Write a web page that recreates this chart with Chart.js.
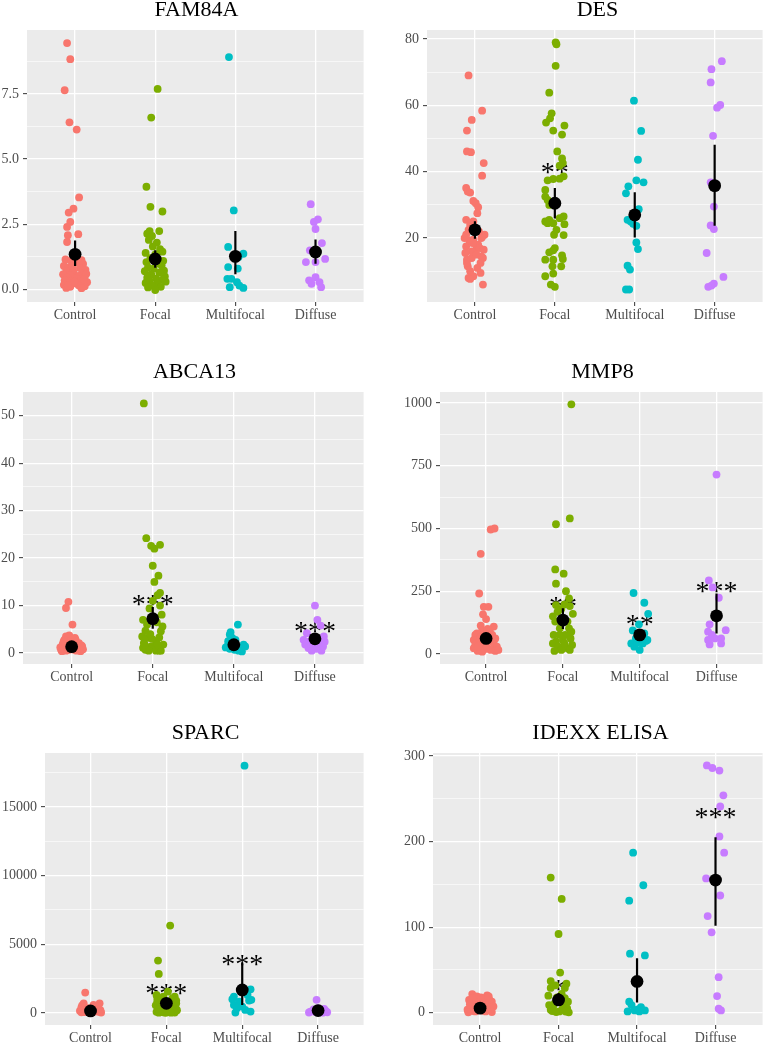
<!DOCTYPE html>
<html><head><meta charset="utf-8">
<script src="https://cdn.jsdelivr.net/npm/chart.js@4.4.1/dist/chart.umd.min.js"></script>
<style>
html,body{margin:0;padding:0;background:#fff;}
body{width:769px;height:1044px;overflow:hidden;position:relative;}
canvas{position:absolute;}
.ttl{position:absolute;font-family:"Liberation Serif","Times New Roman",serif;font-size:22px;line-height:22px;color:#000;text-align:center;white-space:nowrap;}
</style></head>
<body>
<script>
// ---------------- DATA ----------------
const categories = ["Control","Focal","Multifocal","Diffuse"];
const geneNames = ["FAM84A","DES","ABCA13","MMP8","SPARC","IDEXX ELISA"];

// each point: [jitter offset (category units), value]
const fam84a_control = [[-0.10,9.45],[-0.06,8.83],[-0.13,7.64],[-0.07,6.41],[0.02,6.13],[0.05,3.53],[-0.02,3.10],[-0.08,2.95],[-0.06,2.59],[-0.10,2.40],[0.04,2.12],[-0.09,2.08],[-0.10,1.82],
 [-0.12,1.15],[-0.05,1.10],[0.03,1.05],[0.10,0.98],[-0.14,0.90],[-0.08,0.85],[0.06,0.82],[0.13,0.75],[-0.11,0.70],[-0.02,0.68],[0.09,0.62],[-0.15,0.58],[-0.06,0.55],[0.04,0.52],[0.12,0.48],[-0.10,0.45],[0.00,0.42],[0.07,0.40],[-0.13,0.35],[-0.04,0.33],[0.10,0.30],[0.15,0.28],[-0.08,0.25],[0.02,0.22],[-0.14,0.18],[0.05,0.15],[0.12,0.12],[-0.06,0.10],[-0.11,0.06],[0.08,0.05],[-0.01,0.30],[0.14,0.60],[-0.03,0.90],[0.08,1.12],[-0.09,0.15],[0.11,0.38]];
const fam84a_focal = [[0.03,7.69],[-0.05,6.59],[-0.11,3.94],[-0.06,3.17],[0.09,2.99],[0.05,2.24],[-0.07,2.24],[-0.10,2.14],[-0.04,2.05],[-0.08,1.90],[0.02,1.80],[-0.03,1.65],[0.06,1.55],[0.09,1.45],[-0.12,1.40],[0.00,1.35],[-0.06,1.20],[0.10,1.10],[-0.11,1.05],[0.04,1.00],[0.08,0.92],[-0.09,0.85],[-0.02,0.80],[0.11,0.72],[-0.13,0.70],[0.05,0.65],[-0.05,0.58],[0.12,0.50],[-0.10,0.45],[0.01,0.42],[0.09,0.38],[-0.07,0.32],[0.13,0.30],[-0.12,0.25],[0.03,0.22],[-0.04,0.15],[0.07,0.10],[-0.09,0.08],[0.00,-0.02]];
const fam84a_multifocal = [[-0.08,8.91],[-0.02,3.03],[-0.09,1.63],[0.10,1.37],[0.04,1.25],[-0.09,0.86],[0.03,0.80],[-0.10,0.41],[-0.05,0.41],[0.02,0.28],[-0.07,0.09],[0.05,0.15],[0.10,0.06]];
const fam84a_diffuse = [[-0.06,3.27],[0.03,2.69],[-0.02,2.59],[0.00,2.32],[0.08,1.78],[-0.07,1.50],[0.12,1.17],[-0.12,1.05],[0.00,1.05],[0.00,0.47],[-0.08,0.35],[-0.05,0.22],[0.05,0.28],[0.07,0.09],[-0.04,1.48]];
const fam84a_mean = [1.35,1.17,1.27,1.44];
const fam84a_low  = [0.90,0.83,0.58,0.99];
const fam84a_high = [1.88,1.50,2.24,1.92];
const fam84a_sig  = ["","","",""];
const fam84a_sigY = [null,null,null,null];
const fam84a_ticks = [0,2.5,5,7.5];
const fam84a_tickLabels = ["0.0","2.5","5.0","7.5"];
const fam84a_minor = [1.25,3.75,6.25,8.75];
const fam84a_range = [-0.48,9.95];

const des_control = [[-0.08,69.0],[0.09,58.4],[-0.04,55.6],[-0.10,52.4],[-0.10,46.1],[-0.05,45.9],[0.11,42.6],[0.09,38.8],[-0.11,35.1],[-0.09,34.0],[-0.06,33.7],[-0.02,31.2],[0.01,30.5],[0.04,29.3],[0.03,27.5],[-0.11,25.5],[-0.02,25.0],[-0.08,22.5],[0.12,21.0],[0.09,20.3],[-0.11,17.5],[-0.07,19.3],[0.02,17.0],[0.04,18.0],[-0.10,13.5],[-0.04,14.0],[0.08,14.5],[0.10,14.0],[0.07,12.5],[-0.09,11.5],[-0.06,10.0],[-0.02,8.5],[-0.08,8.0],[0.07,9.5],[-0.06,7.7],[0.10,6.0],[-0.13,20.0],[-0.02,19.5],[-0.11,21.0],[0.06,17.0],[-0.04,16.0],[0.02,15.0],[-0.12,15.5],[0.05,22.0],[-0.06,24.0],[0.08,20.0],[-0.10,12.5],[0.03,11.0],[-0.03,18.5],[0.11,16.5]];
const des_focal = [[0.01,79.0],[0.02,78.4],[0.01,71.9],[-0.07,63.8],[-0.04,57.6],[-0.06,56.1],[-0.11,54.8],[0.12,53.9],[-0.02,52.4],[0.09,51.2],[0.03,46.1],[0.09,44.0],[0.10,42.6],[0.06,41.8],[0.11,38.6],[0.06,37.9],[-0.02,37.8],[-0.09,37.4],[-0.12,34.5],[-0.12,32.5],[-0.09,31.5],[-0.07,30.0],[0.11,26.5],[0.06,26.0],[-0.07,25.5],[-0.12,25.0],[-0.09,24.5],[-0.02,24.5],[0.12,24.2],[0.02,22.5],[-0.01,21.0],[0.11,20.9],[0.00,17.0],[-0.02,16.3],[-0.07,15.7],[-0.12,13.5],[-0.02,13.5],[0.09,14.8],[0.10,13.7],[0.08,11.5],[-0.03,11.5],[-0.02,9.3],[-0.12,8.5],[-0.05,6.0],[0.00,5.3]];
const des_multifocal = [[-0.01,61.4],[0.08,52.3],[0.04,43.6],[0.02,37.4],[0.11,36.8],[-0.08,35.6],[-0.11,33.5],[0.05,28.7],[-0.09,25.5],[-0.05,25.0],[-0.02,24.3],[0.02,23.7],[0.02,18.7],[0.04,16.7],[-0.09,11.7],[-0.06,10.5],[-0.11,4.5],[-0.07,4.5]];
const des_diffuse = [[0.09,73.3],[-0.04,70.9],[-0.05,66.9],[0.07,60.1],[0.03,59.3],[-0.02,50.8],[-0.05,36.8],[-0.01,29.5],[-0.05,23.8],[-0.01,22.7],[-0.10,15.5],[0.11,8.3],[-0.01,6.3],[-0.04,5.7],[-0.08,5.3]];
const des_mean = [22.5,30.5,27.0,35.8];
const des_low  = [19.8,25.9,20.2,23.7];
const des_high = [25.1,35.1,33.8,48.1];
const des_sig  = ["","**","",""];
const des_sigY = [null,41.1,null,null];
const des_ticks = [20,40,60,80];
const des_tickLabels = ["20","40","60","80"];
const des_minor = [10,30,50,70];
const des_range = [0.74,82.7];

const abca13_control = [[-0.04,10.8],[-0.07,9.5],[0.01,6.0],[-0.07,3.5],[-0.03,3.7],[-0.09,2.8],[-0.05,2.1],[0.05,2.8],[0.09,2.1],[0.13,1.4],[-0.11,1.0],[-0.13,0.7],[-0.07,0.5],[0.03,0.7],[0.11,0.9],[0.07,1.8],[-0.01,2.5],[-0.08,1.8],[-0.11,1.9],[0.11,0.4],[-0.03,0.7],[0.02,1.4],[0.09,1.2],[-0.14,1.2],[0.14,0.8],[-0.05,1.2],[0.06,0.5],[-0.10,2.4],[0.04,3.2],[-0.02,0.9],[0.12,1.6],[-0.12,0.4]];
const abca13_focal = [[-0.11,52.6],[-0.08,24.2],[-0.02,22.6],[0.09,22.8],[0.02,22.0],[0.00,18.4],[0.07,16.3],[0.02,15.0],[0.09,12.7],[0.06,12.2],[0.00,11.0],[0.09,10.0],[-0.04,9.4],[0.11,8.1],[-0.12,7.0],[-0.07,6.0],[0.12,5.6],[-0.09,4.7],[0.10,4.6],[-0.13,3.5],[0.08,3.3],[0.04,2.5],[-0.07,3.2],[-0.11,2.1],[-0.02,1.4],[0.02,1.05],[-0.09,0.7],[0.08,0.5],[-0.05,0.5],[0.04,0.5],[0.10,0.5],[-0.12,1.1],[-0.10,1.8],[0.13,1.8],[0.06,1.8],[-0.03,4.0],[0.05,6.5],[-0.01,3.0]];
const abca13_multifocal = [[0.05,6.0],[-0.04,4.4],[-0.05,3.9],[-0.02,3.2],[0.02,2.8],[0.12,1.8],[0.14,1.4],[-0.07,1.8],[-0.05,0.9],[0.06,0.5],[0.10,0.35],[0.01,0.7],[-0.07,2.5],[0.08,1.0],[-0.10,1.2]];
const abca13_diffuse = [[0.00,10.0],[0.03,7.0],[0.07,5.8],[0.11,3.5],[-0.10,4.2],[-0.14,2.8],[-0.06,2.5],[0.06,2.1],[-0.02,1.4],[0.10,1.4],[-0.08,1.05],[0.08,0.5],[-0.04,0.5],[0.02,0.9],[-0.12,1.8],[0.12,2.4]];
const abca13_mean = [1.34,7.24,1.76,3.0];
const abca13_low  = [1.0,5.1,1.2,2.2];
const abca13_high = [1.7,9.7,2.4,3.9];
const abca13_sig  = ["","***","","***"];
const abca13_sigY = [null,11.25,null,5.6];
const abca13_ticks = [0,10,20,30,40,50];
const abca13_tickLabels = ["0","10","20","30","40","50"];
const abca13_minor = [5,15,25,35,45];
const abca13_range = [-2.3,55.0];

const mmp8_control = [[0.11,500],[0.06,496],[-0.07,399],[-0.09,241],[-0.03,188],[0.03,188],[-0.04,158],[0.00,139],[0.10,109],[-0.07,113],[-0.05,95],[-0.12,82],[-0.14,76],[-0.07,69],[-0.03,78],[0.05,89],[0.08,76],[0.12,62],[-0.16,56],[-0.09,49],[-0.03,42],[0.03,49],[0.10,42],[0.14,29],[-0.14,36],[-0.08,23],[-0.01,20],[0.06,16],[0.12,12],[-0.11,12],[-0.05,9],[0.16,16],[0.01,29],[-0.16,23],[0.02,100],[-0.10,30],[0.09,60]];
const mmp8_focal = [[0.11,995],[0.09,540],[-0.09,517],[-0.10,337],[0.01,320],[-0.09,280],[0.08,221],[0.02,198],[0.09,191],[-0.09,195],[-0.07,168],[-0.10,129],[0.06,129],[0.08,102],[-0.04,102],[-0.12,76],[0.03,76],[0.10,62],[-0.09,49],[0.00,56],[-0.13,42],[0.12,36],[-0.06,29],[0.06,23],[-0.02,16],[-0.11,12],[0.09,16],[0.02,42],[-0.04,76],[0.11,89],[-0.13,150],[0.13,160],[0.04,250],[-0.02,180]];
const mmp8_multifocal = [[-0.08,243],[0.06,204],[0.11,160],[-0.01,118],[-0.09,94],[0.06,82],[0.10,56],[-0.05,62],[-0.11,42],[-0.07,29],[0.04,42],[0.00,16],[0.08,52],[-0.03,46]];
const mmp8_diffuse = [[-0.10,293],[-0.05,265],[0.03,224],[0.00,715],[-0.09,118],[0.12,95],[-0.11,89],[-0.06,76],[-0.02,62],[-0.11,56],[0.06,62],[-0.09,38],[0.06,42],[-0.04,65]];
const mmp8_mean = [62,135,76,152];
const mmp8_low  = [45,99,58,82];
const mmp8_high = [85,182,96,241];
const mmp8_sig  = ["","**","**","***"];
const mmp8_sigY = [null,208,135,268];
const mmp8_ticks = [0,250,500,750,1000];
const mmp8_tickLabels = ["0","250","500","750","1000"];
const mmp8_minor = [125,375,625,875];
const mmp8_range = [-40,1044];

const sparc_control = [[-0.07,1480],[0.12,700],[-0.09,700],[0.04,580],[-0.12,400],[0.10,450],[-0.03,350],[0.06,300],[-0.10,250],[0.13,200],[0.00,180],[-0.14,150],[0.08,120],[-0.05,100],[0.11,80],[-0.08,60],[0.03,50],[-0.12,40],[0.14,30],[0.01,20],[-0.04,250],[0.07,420],[-0.11,550],[0.09,150],[-0.02,90]];
const sparc_focal = [[0.05,6360],[-0.11,3810],[-0.10,2840],[0.02,1550],[-0.13,1310],[-0.04,1190],[0.11,1190],[0.08,1050],[-0.09,1000],[0.13,900],[-0.12,850],[0.00,800],[0.06,700],[-0.06,650],[0.10,600],[-0.14,550],[0.03,500],[-0.08,450],[0.12,400],[-0.02,350],[0.07,300],[-0.11,250],[0.14,200],[0.01,150],[-0.07,120],[0.09,100],[-0.13,80],[0.04,60],[-0.04,40],[0.11,30],[-0.10,20],[0.06,15],[-0.01,10],[0.13,700],[-0.12,1100]];
const sparc_multifocal = [[0.03,18010],[0.11,1720],[0.07,1310],[-0.11,1190],[-0.04,825],[0.09,900],[-0.11,580],[-0.07,340],[0.04,220],[0.11,100],[-0.09,25],[0.00,460],[-0.13,1000],[0.12,950]];
const sparc_diffuse = [[-0.02,950],[-0.10,100],[-0.06,250],[0.03,200],[0.10,150],[0.08,300],[-0.04,80],[-0.12,30],[0.12,50],[0.00,350],[0.06,20]];
const sparc_mean = [145,700,1675,170];
const sparc_low  = [60,450,580,60];
const sparc_high = [260,1100,3665,330];
const sparc_sig  = ["","***","***",""];
const sparc_sigY = [null,1720,3900,null];
const sparc_ticks = [0,5000,10000,15000];
const sparc_tickLabels = ["0","5000","10000","15000"];
const sparc_minor = [2500,7500,12500,17500];
const sparc_range = [-880,18930];

const idexx_control = [[-0.10,21.8],[0.09,20.2],[-0.04,19],[0.05,17],[-0.14,15],[0.15,13],[-0.08,11],[0.11,9],[-0.12,7.4],[0.00,5.4],[0.13,3.5],[-0.06,1.6],[0.07,1.6],[-0.16,3.5],[0.17,7.4],[-0.02,13],[0.05,9],[-0.10,17],[0.03,2.5],[-0.13,10],[0.12,15],[-0.05,6],[0.09,4],[0.01,18],[-0.09,2],[0.15,0.8],[-0.15,0.5],[0.06,12],[-0.03,8],[0.11,19]];
const idexx_focal = [[-0.10,158],[0.04,133],[0.00,92],[0.02,47],[-0.10,37],[0.10,34],[-0.10,29],[0.08,29],[-0.04,32],[-0.12,9],[-0.05,11],[0.07,11],[0.11,5],[-0.10,3.5],[0.01,1.6],[0.05,4.5],[-0.07,7],[0.09,1.5],[-0.02,18],[0.12,13],[-0.13,20],[0.04,22],[-0.08,2],[0.13,0.5],[-0.03,0.8],[0.08,17]];
const idexx_multifocal = [[-0.05,187],[0.08,149],[-0.10,131],[-0.09,69],[0.10,67],[-0.10,13],[-0.07,9],[0.01,4],[0.05,6.6],[-0.12,1.6],[-0.03,2.7],[0.10,2.7],[0.03,1.6]];
const idexx_diffuse = [[-0.11,289],[-0.04,286],[0.05,283],[0.10,254],[0.06,241],[0.05,206],[0.11,187],[-0.12,157],[0.06,137],[-0.10,113],[-0.05,94],[0.04,41.6],[0.02,19.5],[0.04,4.7],[0.07,2.7]];
const idexx_mean = [5.4,15,36.6,155];
const idexx_low  = [4,8,12,101.6];
const idexx_high = [7,23,63.8,205];
const idexx_sig  = ["","*","","***"];
const idexx_sigY = [null,32.7,null,233];
const idexx_ticks = [0,100,200,300];
const idexx_tickLabels = ["0","100","200","300"];
const idexx_minor = [50,150,250];
const idexx_range = [-14.3,303.5];

// ---------------- PANELS (data refs) ----------------
const panelData = [
 {groups:[fam84a_control,fam84a_focal,fam84a_multifocal,fam84a_diffuse], mean:fam84a_mean, low:fam84a_low, high:fam84a_high, sig:fam84a_sig, sigY:fam84a_sigY, ticks:fam84a_ticks, labels:fam84a_tickLabels, minor:fam84a_minor, range:fam84a_range},
 {groups:[des_control,des_focal,des_multifocal,des_diffuse], mean:des_mean, low:des_low, high:des_high, sig:des_sig, sigY:des_sigY, ticks:des_ticks, labels:des_tickLabels, minor:des_minor, range:des_range},
 {groups:[abca13_control,abca13_focal,abca13_multifocal,abca13_diffuse], mean:abca13_mean, low:abca13_low, high:abca13_high, sig:abca13_sig, sigY:abca13_sigY, ticks:abca13_ticks, labels:abca13_tickLabels, minor:abca13_minor, range:abca13_range},
 {groups:[mmp8_control,mmp8_focal,mmp8_multifocal,mmp8_diffuse], mean:mmp8_mean, low:mmp8_low, high:mmp8_high, sig:mmp8_sig, sigY:mmp8_sigY, ticks:mmp8_ticks, labels:mmp8_tickLabels, minor:mmp8_minor, range:mmp8_range},
 {groups:[sparc_control,sparc_focal,sparc_multifocal,sparc_diffuse], mean:sparc_mean, low:sparc_low, high:sparc_high, sig:sparc_sig, sigY:sparc_sigY, ticks:sparc_ticks, labels:sparc_tickLabels, minor:sparc_minor, range:sparc_range},
 {groups:[idexx_control,idexx_focal,idexx_multifocal,idexx_diffuse], mean:idexx_mean, low:idexx_low, high:idexx_high, sig:idexx_sig, sigY:idexx_sigY, ticks:idexx_ticks, labels:idexx_tickLabels, minor:idexx_minor, range:idexx_range}
];

// ---------------- LAYOUT / STYLE ----------------
const layoutCfg = [
 {rect:[27,30,366,302],  cl:0,   padR:4},
 {rect:[427,30,768,302], cl:385, padR:1},
 {rect:[23,392,366,664], cl:0,   padR:4},
 {rect:[440,392,765,664],cl:385, padR:4},
 {rect:[45,753,366,1025],cl:0,   padR:4},
 {rect:[433,753,768,1025],cl:385,padR:1}
];
const groupColors = ["#F8766D","#7CAE00","#00BFC4","#C77CFF"];
const FONT = '"Liberation Serif","Times New Roman",serif';
const PAD_T = 14, AXIS_H = 26;

const bgPlugin = {
  id:'panelBg',
  beforeDraw(chart){
    const {ctx, chartArea:a} = chart;
    ctx.save(); ctx.fillStyle = '#EBEBEB';
    ctx.fillRect(a.left, a.top, a.right-a.left, a.bottom-a.top);
    ctx.restore();
  }
};
const sigPlugin = {
  id:'sigLabels',
  beforeDatasetsDraw(chart, args, opts){
    const {ctx} = chart; const xs = chart.scales.x, ys = chart.scales.y;
    const size = 28;
    ctx.save();
    ctx.fillStyle = '#000'; ctx.font = size + 'px ' + FONT;
    ctx.textAlign = 'center'; ctx.textBaseline = 'alphabetic';
    opts.labels.forEach((t,i)=>{
      if(!t) return;
      const px = xs.getPixelForValue(i+1);
      const py = ys.getPixelForValue(opts.ys[i]);
      ctx.fillText(t, px, py + size*0.47);
    });
    ctx.restore();
  }
};

panelData.forEach((p, k)=>{
  const lay = layoutCfg[k];
  const [L,T,R,B] = lay.rect;
  const cw = R - lay.cl + lay.padR;
  const ch = PAD_T + (B - T) + AXIS_H;
  const cv = document.createElement('canvas');
  cv.width = cw; cv.height = ch;
  cv.style.left = lay.cl + 'px'; cv.style.top = (T - PAD_T) + 'px';
  cv.style.width = cw + 'px'; cv.style.height = ch + 'px';
  document.body.appendChild(cv);

  const ttl = document.createElement('div');
  ttl.className = 'ttl';
  ttl.textContent = geneNames[k];
  ttl.style.left = L + 'px'; ttl.style.width = (R - L) + 'px';
  ttl.style.top = (T - 14 - 18.4) + 'px';
  document.body.appendChild(ttl);

  const allTicks = p.ticks.concat(p.minor).sort((a,b)=>a-b);
  const isMajor = v => p.ticks.indexOf(v) >= 0;

  const datasets = [];
  datasets.push({type:'scatter', data:p.mean.map((m,i)=>({x:i+1, y:m})), pointRadius:6.4, backgroundColor:'#000', borderWidth:0, pointHoverRadius:6.4});
  p.mean.forEach((m,i)=>{
    datasets.push({type:'line', data:[{x:i+1,y:p.low[i]},{x:i+1,y:p.high[i]}], borderColor:'#000', borderWidth:2.2, pointRadius:0, fill:false, tension:0});
  });
  p.groups.forEach((g,i)=>{
    datasets.push({type:'scatter', data:g.map(pt=>({x:i+1+pt[0], y:pt[1]})), pointRadius:3.9, backgroundColor:groupColors[i], borderWidth:0, pointHoverRadius:3.9});
  });

  new Chart(cv, {
    data:{datasets},
    options:{
      responsive:false, animation:false, devicePixelRatio:1, events:[],
      layout:{padding:{left:0, right:lay.padR, top:PAD_T, bottom:0}},
      plugins:{legend:{display:false}, tooltip:{enabled:false}, title:{display:false}, sigLabels:{labels:p.sig, ys:p.sigY}},
      scales:{
        x:{type:'linear', min:0.4, max:4.6,
           afterBuildTicks: s => { s.ticks = categories.map((c,i)=>({value:i+1})); },
           afterFit: s => { s.height = AXIS_H; },
           ticks:{callback: v => categories[Math.round(v)-1], autoSkip:false, maxRotation:0, minRotation:0, padding:1, color:'#4D4D4D', font:{family:FONT, size:14}},
           grid:{color:'#FFFFFF', lineWidth:1.3, drawTicks:true, tickLength:4, tickColor:'#333333', tickWidth:1},
           border:{display:false}},
        y:{type:'linear', min:p.range[0], max:p.range[1],
           afterBuildTicks: s => { s.ticks = allTicks.map(v=>({value:v})); },
           afterFit: s => { s.width = L - lay.cl; },
           ticks:{callback: v => { const j = p.ticks.indexOf(v); return j >= 0 ? p.labels[j] : ''; }, autoSkip:false, padding:4, color:'#4D4D4D', font:{family:FONT, size:14}},
           grid:{color:'#FFFFFF', lineWidth: c => (c.tick && isMajor(c.tick.value)) ? 1.3 : 0.6, drawTicks:true, tickLength:4, tickWidth:1,
                 tickColor: c => (c.tick && isMajor(c.tick.value)) ? '#333333' : 'rgba(0,0,0,0)'},
           border:{display:false}}
      }
    },
    plugins:[bgPlugin, sigPlugin]
  });
});
</script>
</body></html>
